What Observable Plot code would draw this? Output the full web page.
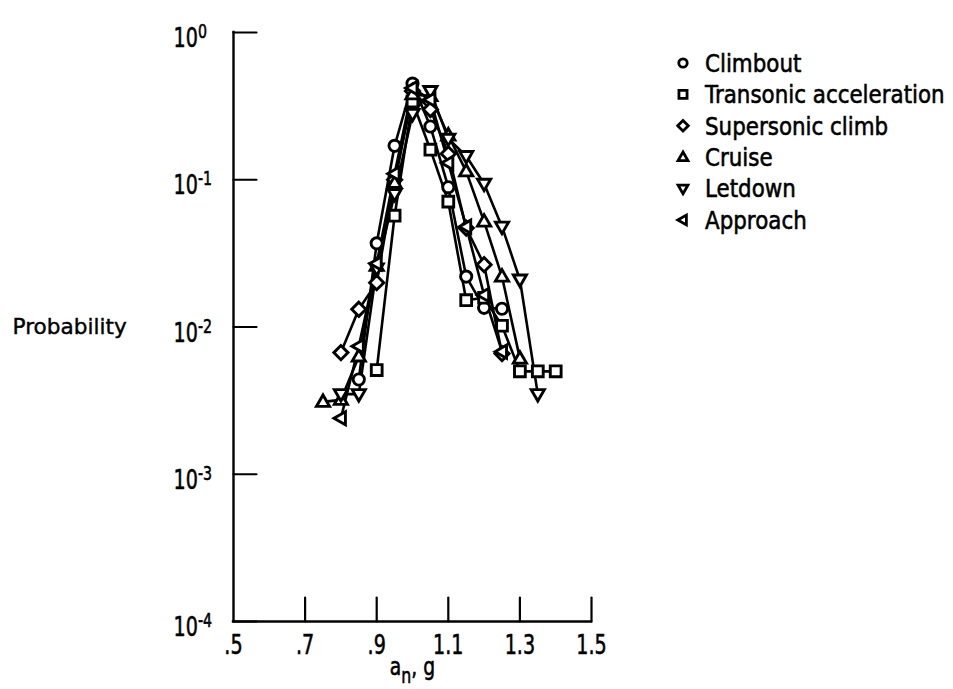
<!DOCTYPE html>
<html>
<head>
<meta charset="utf-8">
<script src="https://cdn.jsdelivr.net/npm/d3@7"></script>
<script src="https://cdn.jsdelivr.net/npm/@observablehq/plot@0.6"></script>
<style>
html, body { margin: 0; padding: 0; background: #fff; }
#chart { position: relative; width: 953px; height: 689px; }
</style>
</head>
<body>
<div id="chart"></div>
<script>
// ---- data ----
const seriesNames = ["Climbout", "Transonic acceleration", "Supersonic climb", "Cruise", "Letdown", "Approach"];
// [a_n (g), probability]
const climbout = [[0.85,0.0044],[0.90,0.037],[0.95,0.17],[1.00,0.45],[1.05,0.23],[1.10,0.089],[1.15,0.022],[1.20,0.0135],[1.25,0.0133]];
const transonic = [[0.90,0.0051],[0.95,0.057],[1.00,0.34],[1.05,0.16],[1.10,0.071],[1.15,0.0152],[1.20,0.0158],[1.25,0.0102],[1.30,0.0050],[1.35,0.0050],[1.40,0.0050]];
const supersonic = [[0.80,0.0067],[0.85,0.0132],[0.90,0.020],[0.95,0.10],[1.00,0.40],[1.05,0.30],[1.10,0.15],[1.15,0.047],[1.20,0.0265],[1.25,0.0066]];
const cruise = [[0.75,0.0031],[0.80,0.0032],[0.85,0.0063],[0.90,0.026],[0.95,0.095],[1.00,0.38],[1.05,0.37],[1.10,0.20],[1.15,0.114],[1.20,0.052],[1.25,0.022],[1.30,0.0061]];
const letdown = [[0.80,0.0035],[0.85,0.0035],[0.90,0.025],[0.95,0.080],[1.00,0.28],[1.05,0.40],[1.10,0.19],[1.15,0.145],[1.20,0.094],[1.25,0.048],[1.30,0.021],[1.35,0.0035]];
const approach = [[0.80,0.0024],[0.85,0.0074],[0.90,0.027],[0.95,0.11],[1.00,0.42],[1.05,0.35],[1.10,0.13],[1.15,0.048],[1.20,0.0165],[1.25,0.0068]];
const seriesData = [climbout, transonic, supersonic, cruise, letdown, approach];

const xTicks = [0.5, 0.7, 0.9, 1.1, 1.3, 1.5];
const xTickLabels = [".5", ".7", ".9", "1.1", "1.3", "1.5"];
const yTicks = [1e-4, 1e-3, 1e-2, 1e-1, 1];
const yLabel = "Probability";
const xLabel = "a_n, g";

// ---- symbols ----
const sym = (fn) => ({ draw(ctx, size) { fn(ctx, Math.sqrt(size / Math.PI)); } });
const symCircle = sym((c, r) => { const a = 0.77 * r; c.moveTo(a, 0); c.arc(0, 0, a, 0, 2 * Math.PI); });
const symSquare = sym((c, r) => { const a = 0.74 * r; c.moveTo(-a, -a); c.lineTo(a, -a); c.lineTo(a, a); c.lineTo(-a, a); c.closePath(); });
const symDiamond = sym((c, r) => { const a = 0.97 * r; c.moveTo(0, -a); c.lineTo(a, 0); c.lineTo(0, a); c.lineTo(-a, 0); c.closePath(); });
const symUp = sym((c, r) => { c.moveTo(0, -0.95 * r); c.lineTo(0.9 * r, 0.62 * r); c.lineTo(-0.9 * r, 0.62 * r); c.closePath(); });
const symDown = sym((c, r) => { c.moveTo(0, 0.95 * r); c.lineTo(0.9 * r, -0.62 * r); c.lineTo(-0.9 * r, -0.62 * r); c.closePath(); });
const symLeft = sym((c, r) => { c.moveTo(-0.95 * r, 0); c.lineTo(0.62 * r, -0.9 * r); c.lineTo(0.62 * r, 0.9 * r); c.closePath(); });
const symbols = [symCircle, symSquare, symDiamond, symUp, symDown, symLeft];

const tickShape = { draw(ctx, l) { ctx.moveTo(0, 0); ctx.lineTo(0, -l); } };

const rows = seriesData.flatMap((arr, k) => arr.map(([an, p]) => ({ series: seriesNames[k], an, p })));

const textStyle = { fill: "black", stroke: "black", strokeWidth: 0.6 };

const plot = Plot.plot({
  width: 953,
  height: 689,
  marginLeft: 233,
  marginRight: 362,
  marginTop: 32,
  marginBottom: 68,
  style: { fontFamily: "DejaVu Sans", background: "white", color: "black" },
  x: { domain: [0.5, 1.5], axis: null },
  y: { type: "log", domain: [1e-4, 1], axis: null },
  symbol: { domain: seriesNames, range: symbols },
  marks: [
    Plot.ruleX([0.5], { stroke: "black", strokeWidth: 2.4, strokeLinecap: "square" }),
    Plot.ruleY([1e-4], { stroke: "black", strokeWidth: 2.4, strokeLinecap: "square" }),
    Plot.vector(yTicks, { x: 0.5, y: d => d, length: 23, rotate: 90, anchor: "start", shape: tickShape, stroke: "black", strokeWidth: 2.2 }),
    Plot.vector(xTicks.slice(1), { x: d => d, y: 1e-4, length: 24, anchor: "start", shape: tickShape, stroke: "black", strokeWidth: 2.2 }),
    Plot.line(rows, { x: "an", y: "p", z: "series", stroke: "black", strokeWidth: 2.6 }),
    Plot.dot(rows, { x: "an", y: "p", symbol: "series", r: 7.3, fill: "white", stroke: "black", strokeWidth: 2.9 }),
    Plot.text(yTicks, { x: 0.5, y: d => d, text: d => `10^${Math.round(Math.log10(d))}`, dx: -60, dy: 6, textAnchor: "start", lineAnchor: "middle", fontSize: 27, ...textStyle, ariaDescription: "ytick" }),
    Plot.text(xTicks, { x: d => d, y: 1e-4, text: (d, i) => xTickLabels[i], dy: 32, lineAnchor: "bottom", fontSize: 27, ...textStyle, ariaDescription: "xtick" }),
    Plot.text([yLabel], { frameAnchor: "left", text: d => d, dx: -221, textAnchor: "start", lineAnchor: "middle", fontSize: 21, ...textStyle, strokeWidth: 0.4, ariaDescription: "ylabel" }),
    Plot.text([xLabel], { frameAnchor: "bottom", text: d => d, dy: 53, lineAnchor: "bottom", fontSize: 25, ...textStyle, ariaDescription: "xlabel" })
  ]
});

document.getElementById("chart").appendChild(plot);

const sel = d3.select(plot);
// superscript exponents
sel.selectAll('g[aria-description="ytick"] text').each(function () {
  const [base, exp] = this.textContent.split("^");
  this.textContent = base;
  d3.select(this).append("tspan").attr("dy", -9).attr("font-size", 20).text(exp);
});
// subscript in axis label
sel.selectAll('g[aria-description="xlabel"] text').each(function () {
  const m = this.textContent.match(/^(.*)_(.)(.*)$/);
  if (!m) return;
  this.textContent = m[1];
  d3.select(this).append("tspan").attr("dy", 8).attr("font-size", 21).text(m[2]);
  d3.select(this).append("tspan").attr("dy", -8).text(m[3]);
});
function squeeze(desc, sx) {
  sel.selectAll(`g[aria-description="${desc}"] text`).each(function () {
    this.setAttribute("transform", (this.getAttribute("transform") || "") + ` scale(${sx},1)`);
  });
}
squeeze("ytick", 0.71);
squeeze("xtick", 0.71);
squeeze("xlabel", 0.75);
squeeze("ylabel", 1.03);

// legend
const leg = sel.append("g")
  .attr("font-family", "DejaVu Sans").attr("font-size", 25)
  .attr("text-anchor", "start").attr("fill", "black");
seriesNames.forEach((name, i) => {
  const g = leg.append("g").attr("transform", `translate(683,${63 + i * 31.4})`);
  g.append("path").attr("d", d3.symbol(symbols[i], Math.PI * 30)()).attr("fill", "white").attr("stroke", "black").attr("stroke-width", 2.8);
  g.append("text").attr("transform", "translate(22,0) scale(0.857,1)").attr("dy", "0.35em")
    .attr("stroke", "black").attr("stroke-width", 0.6).text(name);
});
</script>
</body>
</html>
